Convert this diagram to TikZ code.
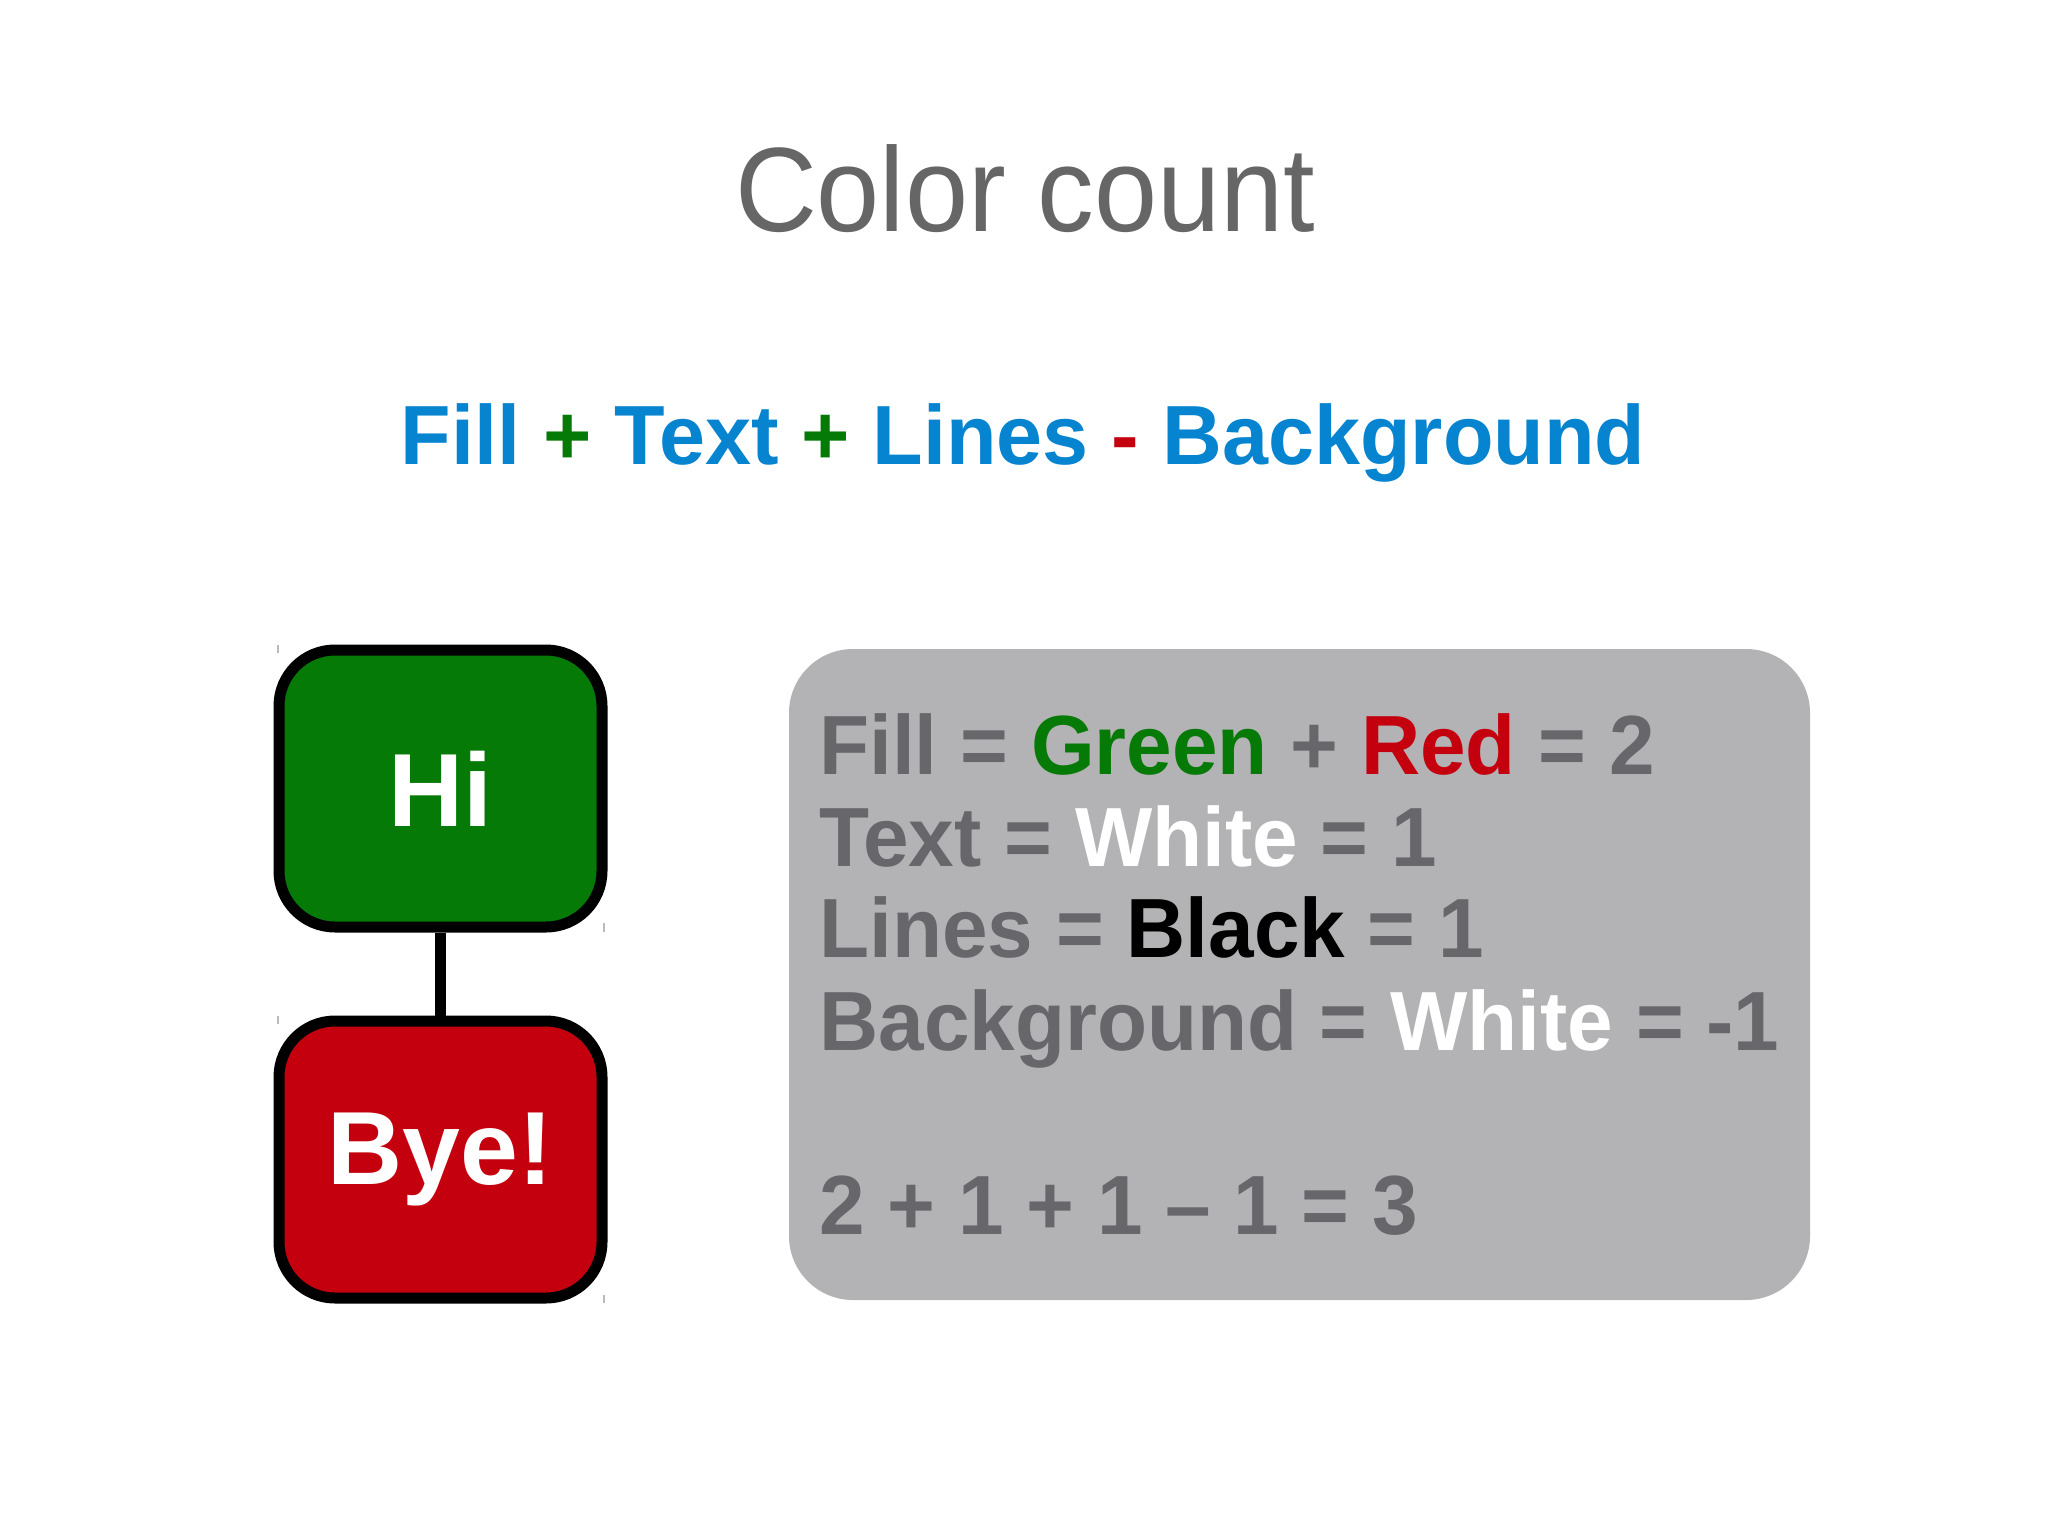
\documentclass[tikz,border=0pt]{standalone}
\usepackage{fontspec}
\setmainfont{Liberation Sans}
\definecolor{titlegray}{HTML}{666666}
\definecolor{sumblue}{HTML}{0784D0}
\definecolor{higreen}{HTML}{067A06}
\definecolor{byered}{HTML}{C4000F}
\definecolor{panelgray}{HTML}{B3B2B4}
\definecolor{textgray}{HTML}{67666A}
\definecolor{tickgray}{HTML}{BBBBBB}

\begin{document}
\begin{tikzpicture}[x=0.5pt, y=-0.5pt,
  box/.style={draw=black, line width=5.5pt, rounded corners=28pt, minimum width=161.5pt, minimum height=138.5pt, text=white, font=\fontsize{52}{60}\selectfont\bfseries},
  row/.style={anchor=base west, inner sep=0pt, xscale=0.975, text=textgray, font=\fontsize{42}{50}\selectfont\bfseries}]
\useasboundingbox[fill=white] (0,0) rectangle (2048,1535);

% headings
\node[anchor=base, inner sep=0pt, xscale=0.945, text=titlegray, font=\fontsize{60}{72}\selectfont] (title) at (1025,232) {Color count};
\node[anchor=base, inner sep=0pt, xscale=0.985, text=sumblue, font=\fontsize{42}{50}\selectfont\bfseries] (sum) at (1023,464)
  {Fill \textcolor{higreen}{+} Text \textcolor{higreen}{+} Lines \textcolor{byered}{-} Background};

% the two boxes
\node[box, fill=higreen] (hi) at (440.5,788.5) {Hi};
\node[box, fill=byered] (bye) at (440.5,1159.5) {Bye!};
\draw[line width=5.5pt] (hi) -- (bye);
%\draw[tickgray, line width=0.6pt] (hi.north west) ++(-2,-5) -- ++(0,8);
\draw[tickgray, line width=0.6pt] (278,645) -- (278,653);
\draw[tickgray, line width=0.6pt] (604,923) -- (604,932);
\draw[tickgray, line width=0.6pt] (278,1016) -- (278,1024);
\draw[tickgray, line width=0.6pt] (604,1295) -- (604,1303);

% the count
\node[fill=panelgray, rounded corners=32pt, minimum width=510.5pt, minimum height=325.5pt] (panel) at (1299.5,974.5) {};
\node[row] (fill) at (819,774) {Fill = \textcolor{higreen}{Green} + \textcolor{byered}{Red} = 2};
\node[row] (text) at (819,866) {Text = \textcolor{white}{White} = 1};
\node[row] (lines) at (819,957) {Lines = \textcolor{black}{Black} = 1};
\node[row] (back) at (819,1050) {Background = \textcolor{white}{White} = -1};
\node[row] (total) at (819,1234) {2 + 1 + 1 -- 1 = 3};

\end{tikzpicture}
\end{document}
